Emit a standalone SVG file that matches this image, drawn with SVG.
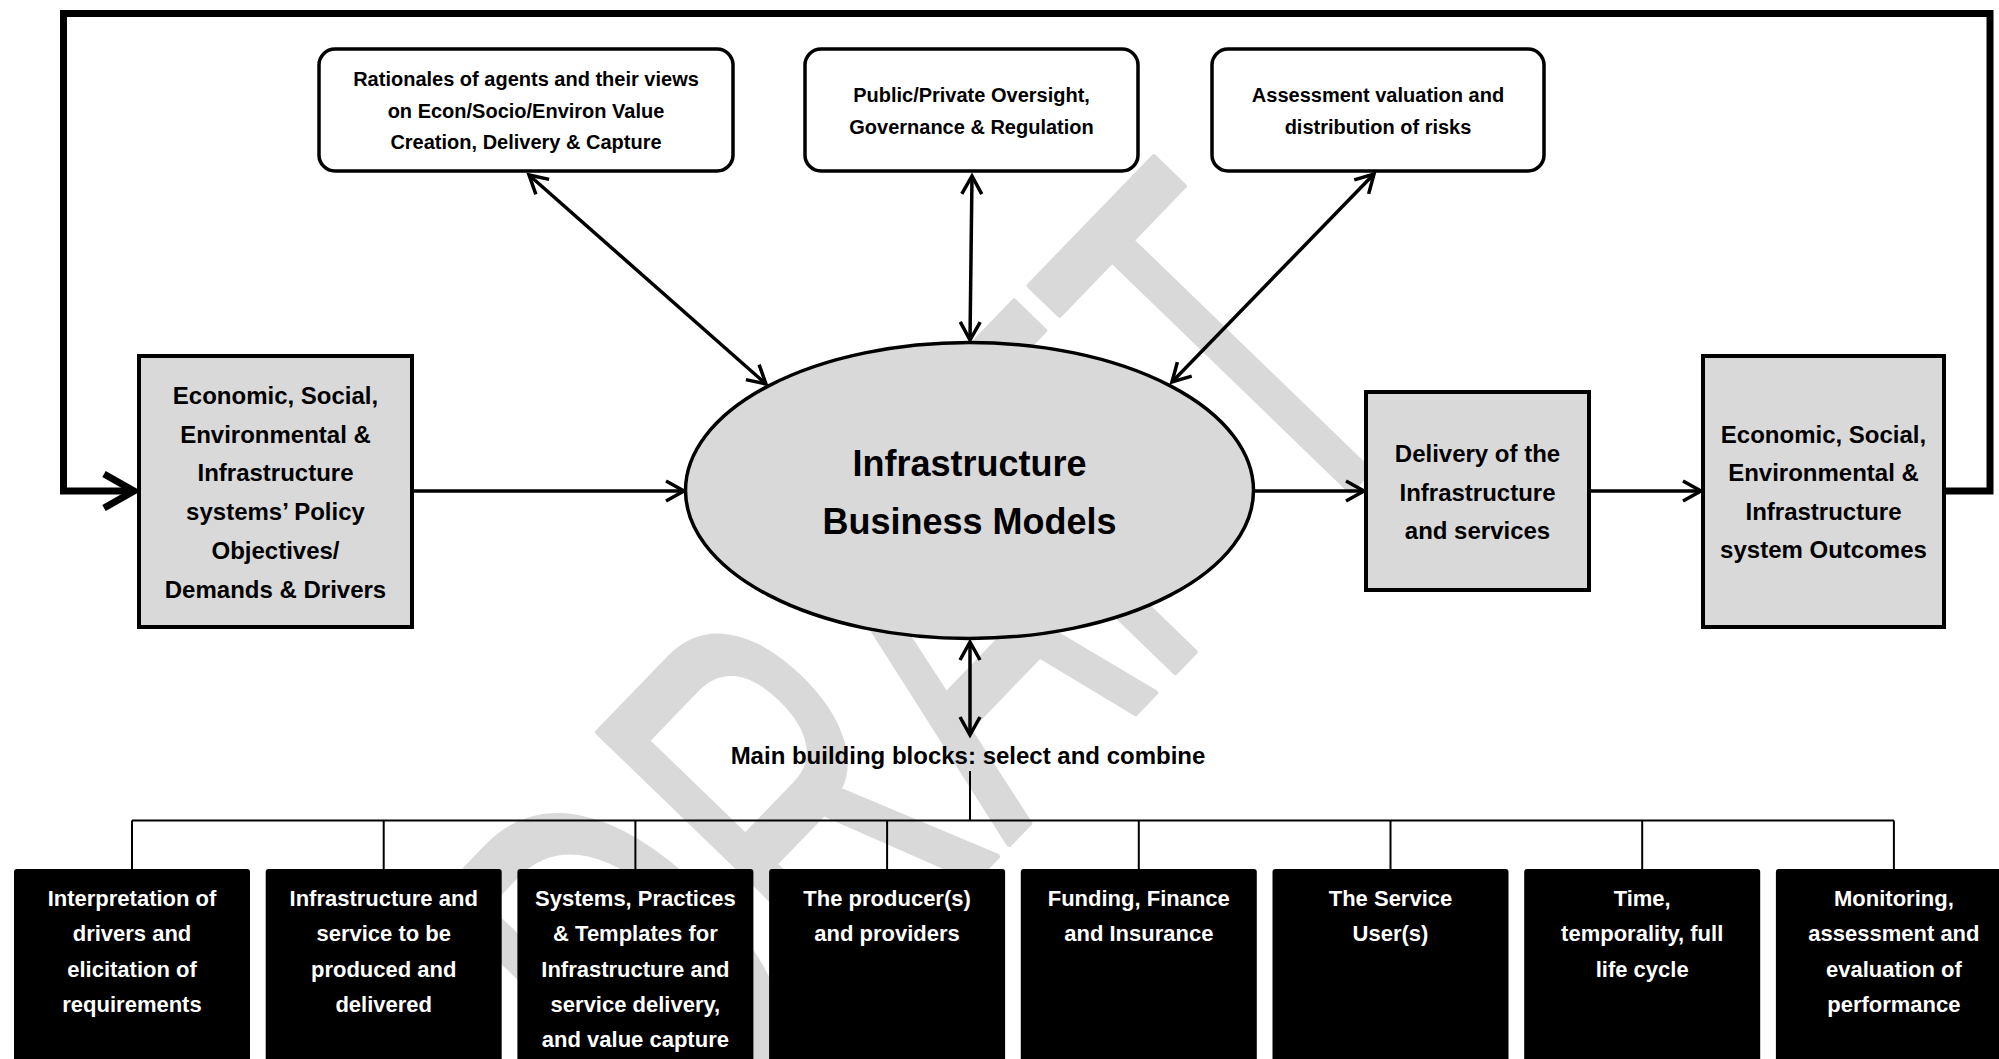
<svg xmlns="http://www.w3.org/2000/svg" width="1999" height="1059" viewBox="0 0 1999 1059">
<style>
text{font-family:"Liberation Sans",Arial,sans-serif;font-weight:bold;text-anchor:middle}
.gray{fill:#d9d9d9;stroke:#000;stroke-width:4}
.top{fill:#fff;stroke:#000;stroke-width:3.5}
.blk{fill:#000;stroke:none}
.t24{font-size:24px;fill:#000}
.t20{font-size:20px;fill:#000}
.t22{font-size:22px;fill:#fff}
.conn{fill:none;stroke:#000;stroke-width:3.5}
.tree{fill:none;stroke:#000;stroke-width:2}
.wm{font-family:"Liberation Sans",Arial,sans-serif;font-weight:normal;font-size:100px;fill:#d9d9d9;stroke:#d9d9d9;stroke-width:5;stroke-linejoin:round;text-anchor:start}
</style>
<defs>
<marker id="ah" markerUnits="userSpaceOnUse" markerWidth="40" markerHeight="40" refX="0" refY="0" orient="auto-start-reverse" overflow="visible">
<path d="M-18,-10 L0,0 L-18,10" fill="none" stroke="#000" stroke-width="3.5"/>
</marker>
<marker id="ahBig" markerUnits="userSpaceOnUse" markerWidth="60" markerHeight="60" refX="0" refY="0" orient="auto" overflow="visible">
<path d="M-30,-17 L0,0 L-30,17" fill="none" stroke="#000" stroke-width="7"/>
</marker>
</defs>
<rect width="1999" height="1059" fill="#fff"/>
<text class="wm" vector-effect="non-scaling-stroke" transform="matrix(2.224 -2.301 3.897 3.767 686.7 1177.3)">DRAFT</text>

<g id="connectors">
<path d="M1946,491 H1990 V13.5 H63.5 V491 H134" fill="none" stroke="#000" stroke-width="7" marker-end="url(#ahBig)"/>
<line class="conn" x1="412" y1="491" x2="684" y2="491" marker-end="url(#ah)"/>
<line class="conn" x1="1253" y1="491" x2="1364" y2="491" marker-end="url(#ah)"/>
<line class="conn" x1="1589" y1="491" x2="1701" y2="491" marker-end="url(#ah)"/>
<line class="conn" x1="529" y1="175" x2="766" y2="384" marker-start="url(#ah)" marker-end="url(#ah)"/>
<line class="conn" x1="972" y1="176" x2="970" y2="340" marker-start="url(#ah)" marker-end="url(#ah)"/>
<line class="conn" x1="1374" y1="174" x2="1172" y2="382" marker-start="url(#ah)" marker-end="url(#ah)"/>
<line class="conn" x1="970" y1="642" x2="970" y2="735" marker-start="url(#ah)" marker-end="url(#ah)"/>
<path class="tree" d="M970,771 V820.5 M132,820.5 H1894 M132,820.5 V869 M383.7,820.5 V869 M635.4,820.5 V869 M887.1,820.5 V869 M1138.8,820.5 V869 M1390.5,820.5 V869 M1642.2,820.5 V869 M1893.9,820.5 V869"/>
</g>

<g id="rationales">
<rect class="top" x="319" y="49" width="414" height="122" rx="16"/>
<text class="t20" x="526" y="86">Rationales of agents and their views</text>
<text class="t20" x="526" y="117.5">on Econ/Socio/Environ Value</text>
<text class="t20" x="526" y="149">Creation, Delivery &amp; Capture</text>
</g>
<g id="oversight">
<rect class="top" x="805" y="49" width="333" height="122" rx="16"/>
<text class="t20" x="971.5" y="102">Public/Private Oversight,</text>
<text class="t20" x="971.5" y="133.5">Governance &amp; Regulation</text>
</g>
<g id="risks">
<rect class="top" x="1212" y="49" width="332" height="122" rx="16"/>
<text class="t20" x="1378" y="102">Assessment valuation and</text>
<text class="t20" x="1378" y="133.5">distribution of risks</text>
</g>

<g id="drivers">
<rect class="gray" x="139" y="356" width="273" height="271"/>
<text class="t24" x="275.5" y="404">Economic, Social,</text>
<text class="t24" x="275.5" y="442.7">Environmental &amp;</text>
<text class="t24" x="275.5" y="481.4">Infrastructure</text>
<text class="t24" x="275.5" y="520.1">systems’ Policy</text>
<text class="t24" x="275.5" y="558.8">Objectives/</text>
<text class="t24" x="275.5" y="597.5">Demands &amp; Drivers</text>
</g>

<g id="ibm">
<ellipse cx="969.5" cy="490.5" rx="284" ry="148" fill="#d9d9d9" stroke="#000" stroke-width="3.5"/>
<text x="969.5" y="476" font-size="36" fill="#000">Infrastructure</text>
<text x="969.5" y="534" font-size="36" fill="#000">Business Models</text>
</g>

<g id="delivery">
<rect class="gray" x="1366" y="392" width="223" height="198"/>
<text class="t24" x="1477.5" y="462">Delivery of the</text>
<text class="t24" x="1477.5" y="500.5">Infrastructure</text>
<text class="t24" x="1477.5" y="539">and services</text>
</g>

<g id="outcomes">
<rect class="gray" x="1703" y="356" width="241" height="271"/>
<text class="t24" x="1823.5" y="442.5">Economic, Social,</text>
<text class="t24" x="1823.5" y="481">Environmental &amp;</text>
<text class="t24" x="1823.5" y="519.5">Infrastructure</text>
<text class="t24" x="1823.5" y="558">system Outcomes</text>
</g>

<g id="label">
<text class="t24" x="968" y="764">Main building blocks: select and combine</text>
</g>

<g id="b1">
<rect class="blk" x="14" y="869" width="236" height="200" rx="3"/>
<text class="t22" x="132" y="906">Interpretation of</text>
<text class="t22" x="132" y="941.3">drivers and</text>
<text class="t22" x="132" y="976.6">elicitation of</text>
<text class="t22" x="132" y="1011.9">requirements</text>
</g>
<g id="b2">
<rect class="blk" x="265.7" y="869" width="236" height="200" rx="3"/>
<text class="t22" x="383.7" y="906">Infrastructure and</text>
<text class="t22" x="383.7" y="941.3">service to be</text>
<text class="t22" x="383.7" y="976.6">produced and</text>
<text class="t22" x="383.7" y="1011.9">delivered</text>
</g>
<g id="b3">
<rect class="blk" x="517.4" y="869" width="236" height="200" rx="3"/>
<text class="t22" x="635.4" y="906">Systems, Practices</text>
<text class="t22" x="635.4" y="941.3">&amp; Templates for</text>
<text class="t22" x="635.4" y="976.6">Infrastructure and</text>
<text class="t22" x="635.4" y="1011.9">service delivery,</text>
<text class="t22" x="635.4" y="1047.2">and value capture</text>
</g>
<g id="b4">
<rect class="blk" x="769.1" y="869" width="236" height="200" rx="3"/>
<text class="t22" x="887.1" y="906">The producer(s)</text>
<text class="t22" x="887.1" y="941.3">and providers</text>
</g>
<g id="b5">
<rect class="blk" x="1020.8" y="869" width="236" height="200" rx="3"/>
<text class="t22" x="1138.8" y="906">Funding, Finance</text>
<text class="t22" x="1138.8" y="941.3">and Insurance</text>
</g>
<g id="b6">
<rect class="blk" x="1272.5" y="869" width="236" height="200" rx="3"/>
<text class="t22" x="1390.5" y="906">The Service</text>
<text class="t22" x="1390.5" y="941.3">User(s)</text>
</g>
<g id="b7">
<rect class="blk" x="1524.2" y="869" width="236" height="200" rx="3"/>
<text class="t22" x="1642.2" y="906">Time,</text>
<text class="t22" x="1642.2" y="941.3">temporality, full</text>
<text class="t22" x="1642.2" y="976.6">life cycle</text>
</g>
<g id="b8">
<rect class="blk" x="1775.9" y="869" width="236" height="200" rx="3"/>
<text class="t22" x="1893.9" y="906">Monitoring,</text>
<text class="t22" x="1893.9" y="941.3">assessment and</text>
<text class="t22" x="1893.9" y="976.6">evaluation of</text>
<text class="t22" x="1893.9" y="1011.9">performance</text>
</g>
</svg>
